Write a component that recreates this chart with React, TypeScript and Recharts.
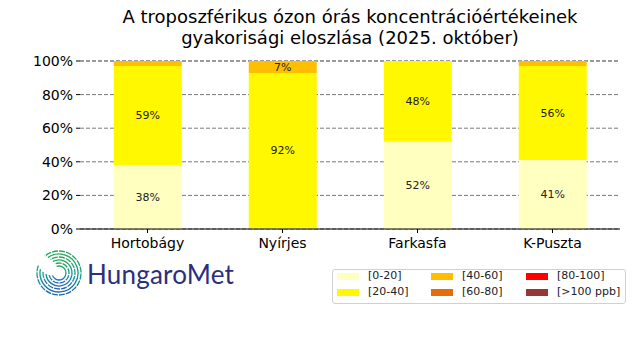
import { BarChart, Bar, XAxis, YAxis, CartesianGrid, LabelList } from 'recharts'

const stations = ['Hortobágy', 'Nyírjes', 'Farkasfa', 'K-Puszta']
const r0_20 = [38, 0.4, 52, 41]
const r20_40 = [59, 92.4, 48, 56]
const r40_60 = [3, 7.2, 0, 3]
const r60_80 = [0, 0, 0, 0]
const r80_100 = [0, 0, 0, 0]
const r100 = [0, 0, 0, 0]
const yTicks = [0, 20, 40, 60, 80, 100]

const series = [
  { key: 'a', name: '[0-20]', color: '#ffffc0', values: r0_20 },
  { key: 'b', name: '[20-40]', color: '#fff800', values: r20_40 },
  { key: 'c', name: '[40-60]', color: '#ffbf00', values: r40_60 },
  { key: 'd', name: '[60-80]', color: '#e46c0a', values: r60_80 },
  { key: 'e', name: '[80-100]', color: '#ff0000', values: r80_100 },
  { key: 'f', name: '[>100 ppb]', color: '#953735', values: r100 },
]

const data = stations.map((s, i) => {
  const row: any = { name: s }
  series.forEach((se) => (row[se.key] = se.values[i]))
  return row
})

const font = '"DejaVu Sans", sans-serif'

function SegLabel(props: any) {
  const { x, y, width, height, value } = props
  if (value == null || value < 5) return null
  return (
    <text
      x={x + width / 2}
      y={y + height / 2}
      textAnchor="middle"
      dominantBaseline="central"
      fontSize={11}
      fontFamily={font}
      fill="#222"
    >
      {Math.round(value)}%
    </text>
  )
}

// legend slot positions (column x, row y)
const legendCols = [337, 431, 526]
const legendRows = [273, 289]

function Logo() {
  const radii = [7, 10, 13, 16, 19, 22]
  const cx = 24
  const cy = 25
  const arcs = radii.map((r, i) => {
    const a0 = ((200 - i * 8) * Math.PI) / 180
    const a1 = ((470 + i * 4) * Math.PI) / 180
    const x0 = cx + r * Math.cos(a0)
    const y0 = cy - r * Math.sin(a0)
    const x1 = cx + r * Math.cos(a1)
    const y1 = cy - r * Math.sin(a1)
    return `M ${x0} ${y0} A ${r} ${r} 0 1 0 ${x1} ${y1}`
  })
  return (
    <svg width={50} height={52} style={{ position: 'absolute', left: 35, top: 248 }}>
      <defs>
        <linearGradient id="logoGrad" x1="0" y1="0" x2="0" y2="1">
          <stop offset="0%" stopColor="#2aa85a" />
          <stop offset="55%" stopColor="#159c96" />
          <stop offset="100%" stopColor="#2166b5" />
        </linearGradient>
      </defs>
      {arcs.map((d, i) => (
        <path key={i} d={d} fill="none" stroke="url(#logoGrad)" strokeWidth={1.3} strokeDasharray={i % 2 ? '6 1' : undefined} />
      ))}
    </svg>
  )
}

export default function App() {
  return (
    <div style={{ position: 'absolute', left: 0, top: 0, width: 640, height: 360, background: '#fff', fontFamily: font }}>
      <div
        style={{
          position: 'absolute',
          left: 60,
          width: 580,
          top: 6,
          textAlign: 'center',
          fontSize: 18,
          lineHeight: '21px',
          color: '#000',
        }}
      >
        A troposzférikus ózon órás koncentrációértékeinek
        <br />
        gyakorisági eloszlása (2025. október)
      </div>
      <BarChart
        width={640}
        height={360}
        data={data}
        margin={{ top: 61, right: 20, bottom: 101, left: 0 }}
        barCategoryGap="25%"
      >
        <CartesianGrid vertical={false} stroke="#777" strokeDasharray="4 2" />
        <XAxis
          dataKey="name"
          stroke="#000"
          tickSize={4}
          tickMargin={5}
          tick={{ fill: '#000', fontSize: 14, fontFamily: font }}
        />
        <YAxis
          width={80}
          domain={[0, 100]}
          ticks={yTicks}
          axisLine={false}
          tickSize={4}
          tickMargin={3}
          stroke="#000"
          tickFormatter={(v) => `${v}%`}
          tick={{ fill: '#000', fontSize: 14, fontFamily: font }}
        />
        {series.map((se) => (
          <Bar key={se.key} dataKey={se.key} stackId="s" fill={se.color} isAnimationActive={false}>
            <LabelList dataKey={se.key} content={SegLabel} />
          </Bar>
        ))}
      </BarChart>
      <Logo />
      <div
        style={{
          position: 'absolute',
          left: 87,
          top: 258,
          fontFamily: 'Lato, sans-serif',
          fontWeight: 400,
          fontSize: 26,
          color: '#2b2f7e',
          letterSpacing: 0.2,
        }}
      >
        HungaroMet
      </div>
      <div
        style={{
          position: 'absolute',
          left: 332,
          top: 269,
          width: 292,
          height: 33,
          border: '1px solid #d0d0d0',
          borderRadius: 3,
        }}
      />
      {series.map((se, i) => {
        const col = Math.floor(i / 2)
        const row = i % 2
        const x = legendCols[col]
        const y = legendRows[row]
        return (
          <div key={se.key}>
            <div style={{ position: 'absolute', left: x, top: y, width: 22, height: 7, background: se.color }} />
            <div
              style={{
                position: 'absolute',
                left: x + 31,
                top: y - 4,
                fontSize: 11,
                lineHeight: '14px',
                color: '#222',
                whiteSpace: 'nowrap',
              }}
            >
              {se.name}
            </div>
          </div>
        )
      })}
    </div>
  )
}
